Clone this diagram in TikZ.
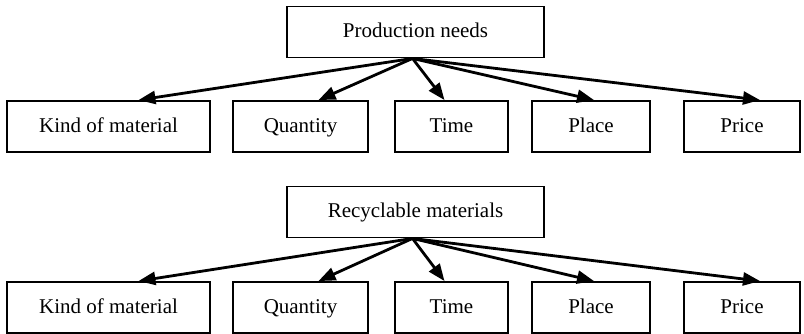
\documentclass[tikz,border=0pt]{standalone}
\usepackage{fontspec}
\setmainfont{Liberation Serif}
\usetikzlibrary{arrows.meta}
\begin{document}
\begin{tikzpicture}[x=1pt,y=-1pt,
  box/.style={draw, line width=1.9pt, inner sep=0pt, font=\fontsize{21}{24}\selectfont,
              text height=16pt, text depth=4pt, minimum height=51pt},
  link/.style={line width=2.8pt, -{Triangle[length=17pt,width=13pt]}}]
  \useasboundingbox (0,0) rectangle (804,334);

  % first tree
  \node[box, minimum width=257pt] (pn) at (415.5,32) {Production needs};
  \node[box, minimum width=203pt] (k1) at (108.5,126.5) {Kind of material};
  \node[box, minimum width=135pt] (q1) at (300.5,126.5) {Quantity};
  \node[box, minimum width=113pt] (t1) at (451.5,126.5) {Time};
  \node[box, minimum width=118pt] (pl1) at (591,126.5) {Place};
  \node[box, minimum width=116pt] (pr1) at (742,126.5) {Price};
  \coordinate (h1) at ([xshift=-3pt]pn.south);
  \draw[link] (h1) -- ([xshift=30pt]k1.north);
  \draw[link] (h1) -- ([xshift=18pt]q1.north);
  \draw[link] (h1) -- ([xshift=-7pt]t1.north);
  \draw[link] (h1) -- ([xshift=3pt]pl1.north);
  \draw[link] (h1) -- ([xshift=18pt]pr1.north);

  % second tree
  \node[box, minimum width=257pt] (rm) at (415.5,212) {Recyclable materials};
  \node[box, minimum width=203pt] (k2) at (108.5,307.5) {Kind of material};
  \node[box, minimum width=135pt] (q2) at (300.5,307.5) {Quantity};
  \node[box, minimum width=113pt] (t2) at (451.5,307.5) {Time};
  \node[box, minimum width=118pt] (pl2) at (591,307.5) {Place};
  \node[box, minimum width=116pt] (pr2) at (742,307.5) {Price};
  \coordinate (h2) at ([xshift=-3pt]rm.south);
  \draw[link] (h2) -- ([xshift=30pt]k2.north);
  \draw[link] (h2) -- ([xshift=18pt]q2.north);
  \draw[link] (h2) -- ([xshift=-7pt]t2.north);
  \draw[link] (h2) -- ([xshift=3pt]pl2.north);
  \draw[link] (h2) -- ([xshift=18pt]pr2.north);
\end{tikzpicture}
\end{document}
